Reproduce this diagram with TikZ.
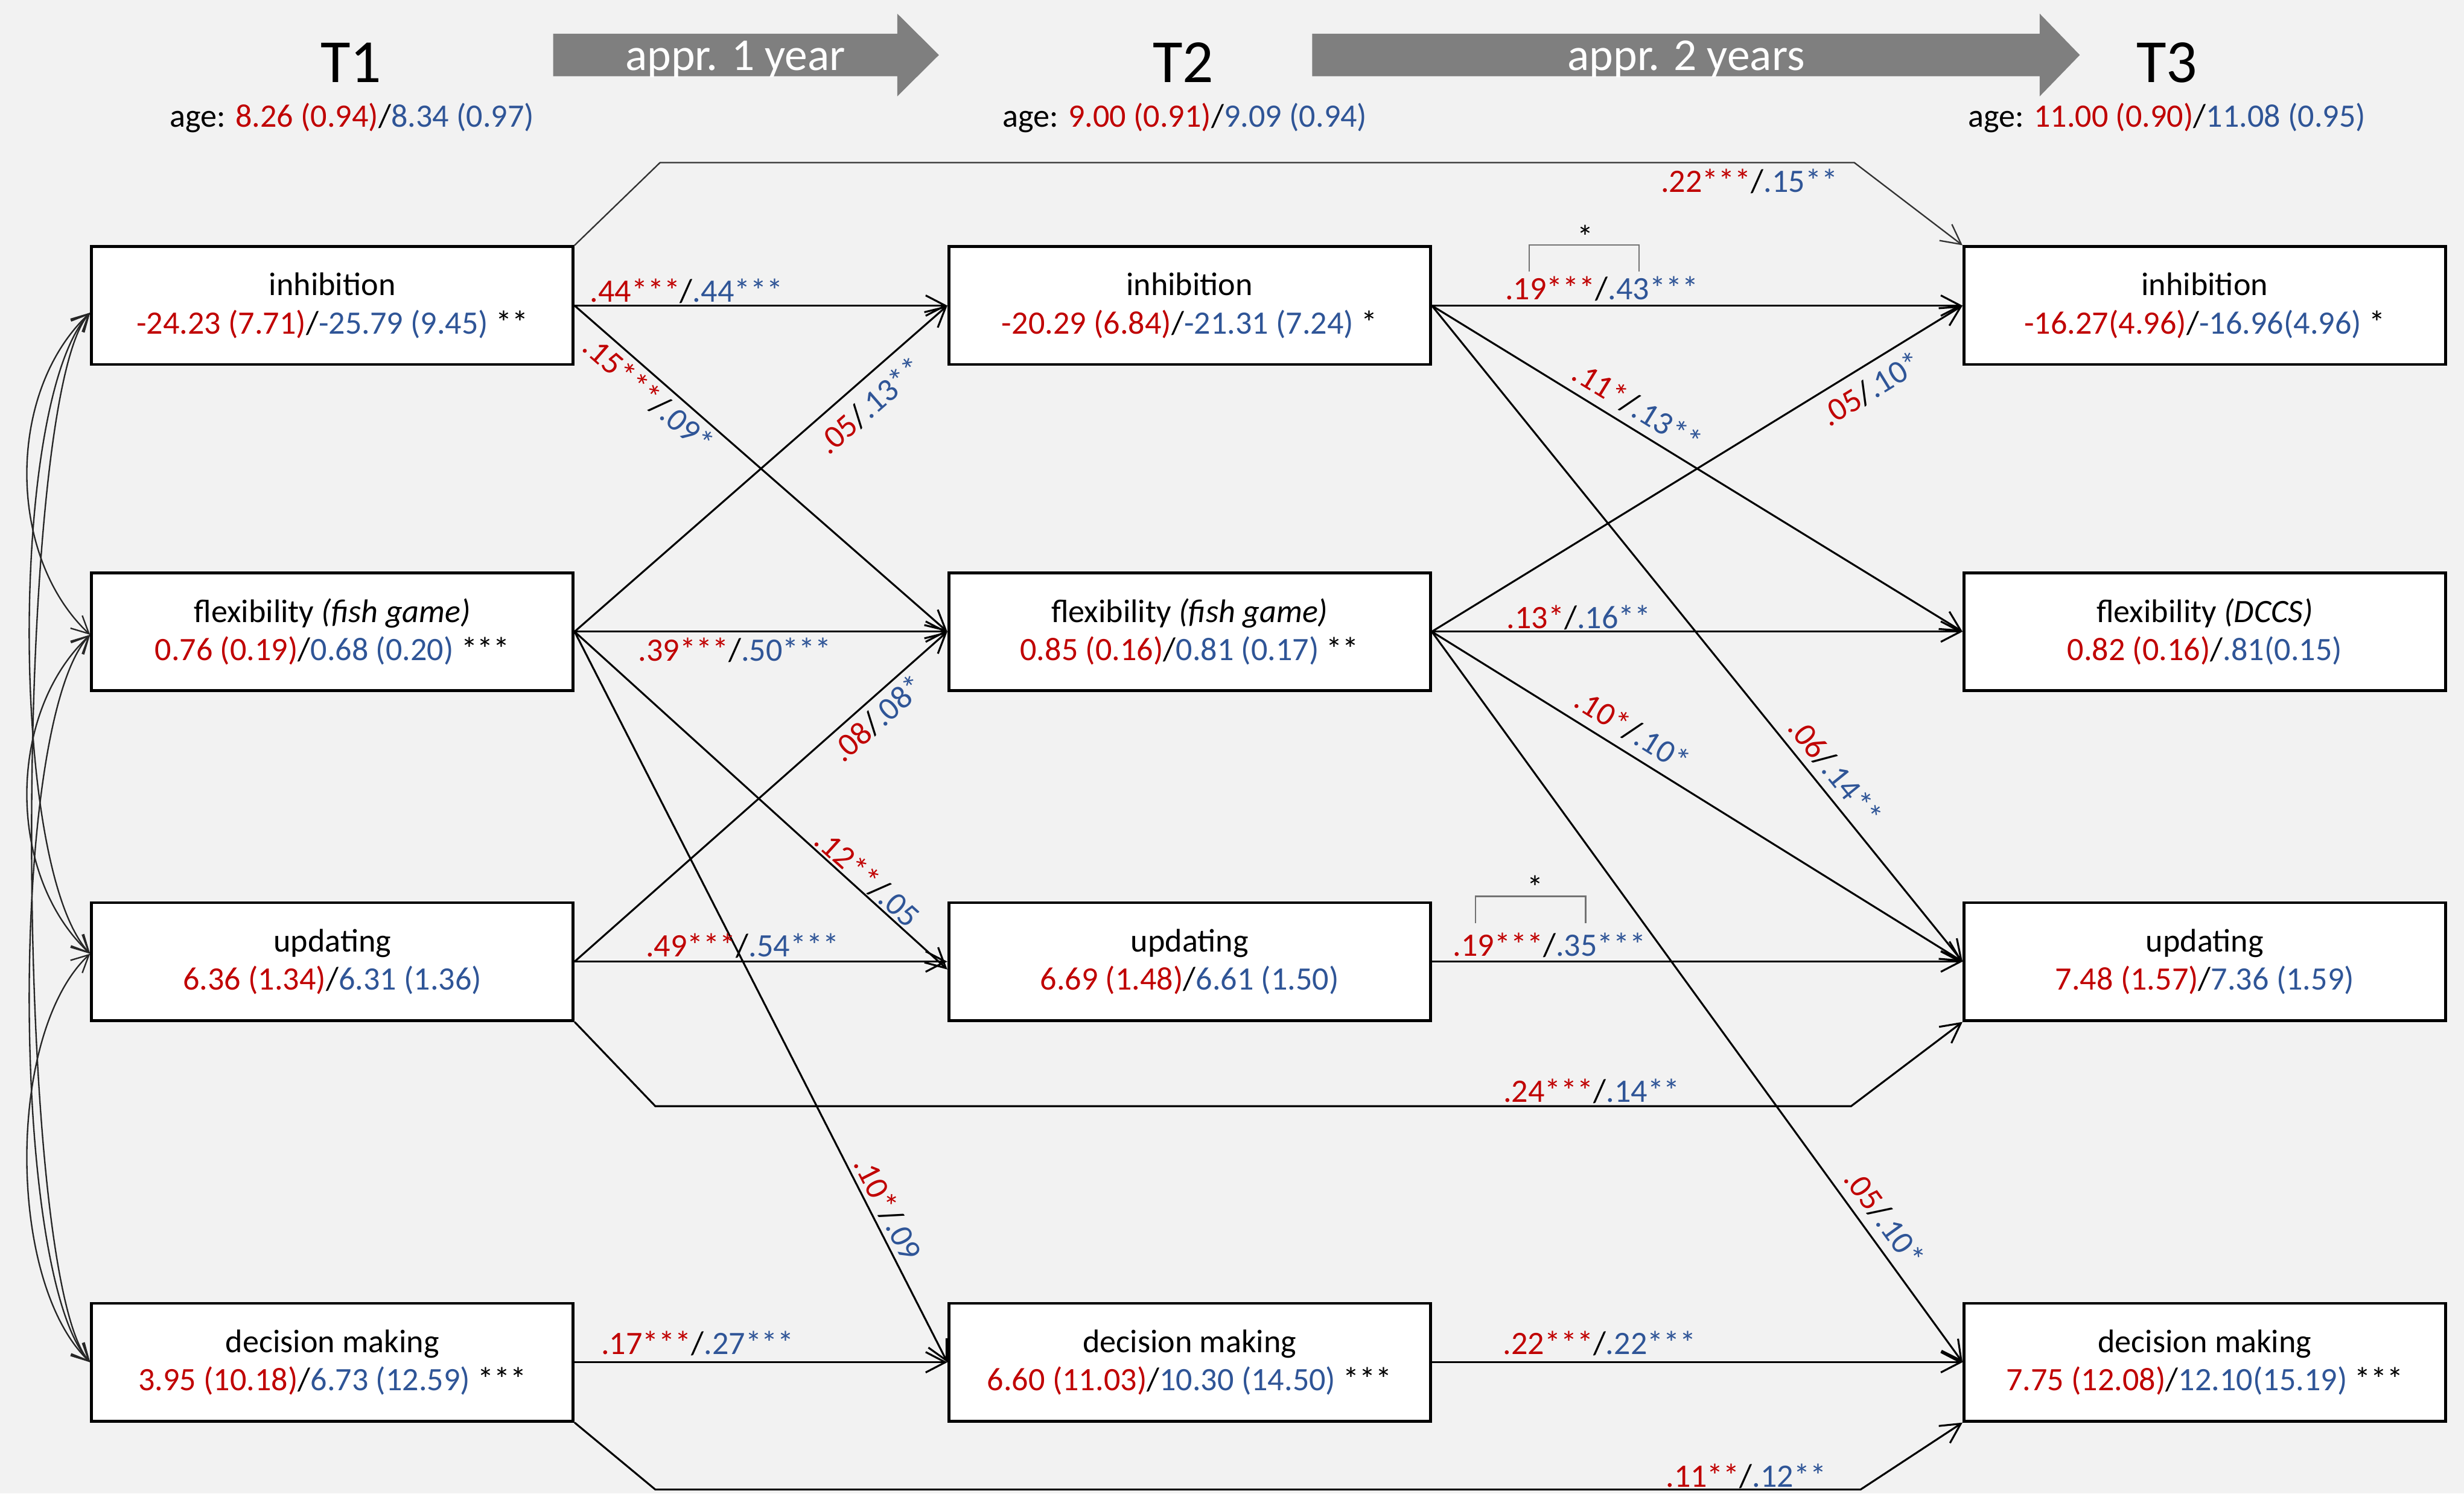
\documentclass[tikz,border=0pt]{standalone}
\usepackage{fontspec}
\setmainfont{Carlito}
\usetikzlibrary{arrows.meta}
\definecolor{bgc}{HTML}{F2F2F2}
\definecolor{myred}{HTML}{C00000}
\definecolor{myblue}{HTML}{2F5597}
\definecolor{arrgray}{HTML}{7F7F7F}
\newcommand{\BodyFnt}{\fontsize{20.8}{24.3}\selectfont}
\newcommand{\RBpair}[2]{\textcolor{myred}{#1}/\textcolor{myblue}{#2}}
\begin{document}
\begin{tikzpicture}[x=1pt,y=-1pt,
  box/.style={draw=black, line width=1.8pt, fill=white, minimum width=306.5pt, minimum height=75pt, inner sep=0pt, align=center, font=\BodyFnt},
  eff/.style={line width=1.2pt, -{Straight Barb[length=12.5pt,width=13pt]}},
  cov/.style={line width=0.9pt, black!85, {Straight Barb[length=11pt,width=11pt]}-{Straight Barb[length=11pt,width=11pt]}},
  lbl/.style={font=\BodyFnt, inner sep=#1, text=black},
  lbl/.default=2pt,
  bracket/.style={draw=black!55, line width=0.9pt},
  title/.style={font=\fontsize{39}{40}\selectfont, anchor=base},
  agel/.style={font=\BodyFnt, anchor=base},
  garrtext/.style={font=\fontsize{29}{30}\selectfont, text=white, anchor=base}
]
\fill[bgc] (0,0) rectangle (1568,950.5);
\useasboundingbox (0,0) rectangle (1568,950.5);

% headers
\node[title] (hT1) at (223.5,52.6) {T1};
\node[title] (hT2) at (753,52.6) {T2};
\node[title] (hT3) at (1379,52.6) {T3};
\node[agel] (aT1) at (224,81) {age: \RBpair{8.26 (0.94)}{8.34 (0.97)}};
\node[agel] (aT2) at (754,81) {age: \RBpair{9.00 (0.91)}{9.09 (0.94)}};
\node[agel] (aT3) at (1379,81) {age: \RBpair{11.00 (0.90)}{11.08 (0.95)}};

% gray time arrows
\fill[arrgray] (352,21.5) -- (571,21.5) -- (571,8.7) -- (597.5,35) -- (571,61.3) -- (571,48.5) -- (352,48.5) -- cycle;
\node[garrtext] (g1) at (468,44.8) {appr. 1 year};
\fill[arrgray] (835,21.5) -- (1298,21.5) -- (1298,8.7) -- (1323.5,35) -- (1298,61.3) -- (1298,48.5) -- (835,48.5) -- cycle;
\node[garrtext] (g2) at (1073,44.8) {appr. 2 years};

% boxes
\node[box] (T1inh) at (211.5,194.5) {inhibition\\\RBpair{-24.23 (7.71)}{-25.79 (9.45)} **};
\node[box] (T1flex) at (211.5,402) {flexibility \textit{(fish game)}\\\RBpair{0.76 (0.19)}{0.68 (0.20)} ***};
\node[box] (T1upd) at (211.5,612) {updating\\\RBpair{6.36 (1.34)}{6.31 (1.36)}};
\node[box] (T1dec) at (211.5,867) {decision making\\\RBpair{3.95 (10.18)}{6.73 (12.59)} ***};

\node[box] (T2inh) at (757,194.5) {inhibition\\\RBpair{-20.29 (6.84)}{-21.31 (7.24)} *};
\node[box] (T2flex) at (757,402) {flexibility \textit{(fish game)}\\\RBpair{0.85 (0.16)}{0.81 (0.17)} **};
\node[box] (T2upd) at (757,612) {updating\\\RBpair{6.69 (1.48)}{6.61 (1.50)}};
\node[box] (T2dec) at (757,867) {decision making\\\RBpair{6.60 (11.03)}{10.30 (14.50)} ***};

\node[box] (T3inh) at (1403,194.5) {inhibition\\\RBpair{-16.27(4.96)}{-16.96(4.96)} *};
\node[box] (T3flex) at (1403,402) {flexibility \textit{(DCCS)}\\\RBpair{0.82 (0.16)}{.81(0.15)}};
\node[box] (T3upd) at (1403,612) {updating\\\RBpair{7.48 (1.57)}{7.36 (1.59)}};
\node[box] (T3dec) at (1403,867) {decision making\\\RBpair{7.75 (12.08)}{12.10(15.19)} ***};

% covariances at T1
\coordinate (c1) at ([yshift=-4.5pt]T1inh.west);
\coordinate (c2) at ([yshift=-2pt]T1flex.west);
\coordinate (c3) at ([yshift=5pt]T1upd.west);
\coordinate (c4) at (T1dec.west);
\draw[cov] (c1) .. controls (4,249) and (4,354) .. (c2);
\draw[cov] (c2) .. controls (4,454) and (4,557) .. (c3);
\draw[cov] (c3) .. controls (4,657) and (4,816) .. (c4);
\draw[cov] (c1) .. controls (6,254) and (6,552) .. (c3);
\draw[cov] (c2) .. controls (6,459) and (6,811) .. (c4);
\draw[cov] (c1) .. controls (8,254) and (8,811) .. (c4);

% T1 -> T2
\draw[eff] (T1inh.east) -- node[lbl=1pt,pos=0.30,above]{\RBpair{.44***}{.44***}} (T2inh.west);
\draw[eff] (T1inh.east) -- node[lbl=3.2pt,pos=0.23,sloped,below]{\RBpair{.15***}{.09*}} (T2flex.west);
\draw[eff] (T1flex.east) -- node[lbl=7pt,pos=0.75,sloped,below]{\RBpair{.05}{.13**}} (T2inh.west);
\draw[eff] (T1flex.east) -- node[lbl=3.2pt,pos=0.43,below]{\RBpair{.39***}{.50***}} (T2flex.west);
\draw[eff] (T1flex.east) -- node[lbl=0.6pt,pos=0.76,sloped,above]{\RBpair{.12**}{.05}} ([yshift=-5pt]T2upd.west);
\draw[eff] (T1flex.east) -- node[lbl=2.4pt,pos=0.80,sloped,above]{\RBpair{.10*}{.09}} (T2dec.west);
\draw[eff] (T1upd.east) -- node[lbl=1.7pt,pos=0.45,above]{\RBpair{.49***}{.54***}} (T2upd.west);
\draw[eff] (T1upd.east) -- node[lbl=3.6pt,pos=0.78,sloped,below]{\RBpair{.08}{.08*}} (T2flex.west);
\draw[eff] (T1dec.east) -- node[lbl=3.7pt,pos=0.33,above]{\RBpair{.17***}{.27***}} (T2dec.west);

% T2 -> T3
\draw[eff] (T2inh.east) -- node[lbl=2.2pt,pos=0.32,above]{\RBpair{.19***}{.43***}} (T3inh.west);
\draw[eff] (T2inh.east) -- node[lbl=5pt,pos=0.366,sloped,above]{\RBpair{.11*}{.13**}} (T3flex.west);
\draw[eff] (T2inh.east) -- node[lbl=4.8pt,pos=0.73,sloped,above]{\RBpair{.06}{.14**}} (T3upd.west);
\draw[eff] (T2flex.east) -- node[lbl=6.2pt,pos=0.805,sloped,below]{\RBpair{.05}{.10*}} (T3inh.west);
\draw[eff] (T2flex.east) -- node[lbl=0.7pt,pos=0.277,above]{\RBpair{.13*}{.16**}} (T3flex.west);
\draw[eff] (T2flex.east) -- node[lbl=5.6pt,pos=0.356,sloped,above]{\RBpair{.10*}{.10*}} (T3upd.west);
\draw[eff] (T2flex.east) -- node[lbl=5.4pt,pos=0.82,sloped,above]{\RBpair{.05}{.10*}} (T3dec.west);
\draw[eff] (T2upd.east) -- node[lbl=2.2pt,pos=0.222,above]{\RBpair{.19***}{.35***}} (T3upd.west);
\draw[eff] (T2dec.east) -- node[lbl=3.7pt,pos=0.316,above]{\RBpair{.22***}{.22***}} (T3dec.west);

% T1 -> T3 bypasses
\coordinate (b1a) at (420,103.5);
\coordinate (b1b) at (1180,103.5);
\draw[eff, draw=black!80, line width=0.9pt] (T1inh.north east) -- (b1a) -- node[lbl=3.7pt,pos=0.912,below]{\RBpair{.22***}{.15**}} (b1b) -- (T3inh.north west);
\coordinate (b2a) at (417,704);
\coordinate (b2b) at (1178,704);
\draw[eff] (T1upd.south east) -- (b2a) -- node[lbl=1.2pt,pos=0.783,above]{\RBpair{.24***}{.14**}} (b2b) -- (T3upd.south west);
\coordinate (b3a) at (417,948);
\coordinate (b3b) at (1184,948);
\draw[eff] (T1dec.south east) -- (b3a) -- node[lbl=0pt,pos=0.905,above]{\RBpair{.11**}{.12**}} (b3b) -- (T3dec.south west);

% significance brackets
\draw[bracket] (973,173) -- (973,156) -- (1043,156) -- (1043,173);
\node[font=\BodyFnt, anchor=base, inner sep=0pt] (s1) at (1009,158) {*};
\draw[bracket] (939,587.6) -- (939,570.5) -- (1009,570.5) -- (1009,587.6);
\node[font=\BodyFnt, anchor=base, inner sep=0pt] (s2) at (977,572) {*};
\end{tikzpicture}
\end{document}
